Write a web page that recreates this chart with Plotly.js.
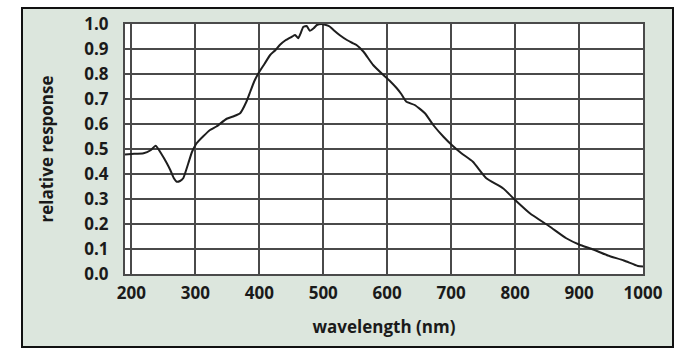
<!DOCTYPE html>
<html>
<head>
<meta charset="utf-8">
<script src="https://cdn.plot.ly/plotly-3.0.1.min.js"></script>
<style>
  html, body { margin: 0; padding: 0; background: #ffffff; width: 682px; height: 356px; overflow: hidden; }
  #chart { position: absolute; left: 21px; top: 7px; width: 649px; height: 337px; border: 2px solid #111; }
</style>
</head>
<body>
<div id="chart"></div>
<script>
// wavelength (nm)
const wavelength = [190, 200, 219, 230, 238, 247, 255, 261, 266, 271, 276, 281, 289, 295, 302, 312, 323, 333, 349, 359, 370, 380, 386, 392, 398, 408, 417, 425, 432, 441, 451, 456, 461, 465, 469, 474, 479, 485, 490, 497, 503, 510, 516, 526, 537, 545, 552, 563, 578, 594, 605, 615, 622, 630, 643, 659, 672, 688, 701, 716, 734, 755, 781, 800, 823, 854, 880, 900, 922, 945, 970, 992, 1000];
// relative response
const response = [0.478, 0.48, 0.483, 0.495, 0.513, 0.48, 0.445, 0.415, 0.385, 0.369, 0.372, 0.383, 0.443, 0.49, 0.523, 0.55, 0.576, 0.59, 0.621, 0.63, 0.643, 0.69, 0.73, 0.77, 0.80, 0.84, 0.876, 0.895, 0.916, 0.935, 0.949, 0.956, 0.943, 0.965, 0.989, 0.992, 0.973, 0.983, 0.996, 1.0, 0.997, 0.99, 0.976, 0.955, 0.936, 0.925, 0.916, 0.889, 0.836, 0.796, 0.77, 0.743, 0.72, 0.689, 0.676, 0.643, 0.596, 0.549, 0.516, 0.483, 0.449, 0.383, 0.343, 0.296, 0.243, 0.19, 0.143, 0.118, 0.098, 0.074, 0.054, 0.032, 0.03];
const xTicks = [200, 300, 400, 500, 600, 700, 800, 900, 1000];
const yTicks = [0.0, 0.1, 0.2, 0.3, 0.4, 0.5, 0.6, 0.7, 0.8, 0.9, 1.0];
const xTitle = 'wavelength (nm)';
const yTitle = 'relative response';

const fontFam = '"Open Sans", "Noto Sans", sans-serif';
const gridCol = '#4a4a4a';

const trace = {
  x: wavelength, y: response, type: 'scatter', mode: 'lines',
  line: { color: '#1e1e1e', width: 2, shape: 'spline', smoothing: 0.5 },
  hoverinfo: 'skip'
};

const layout = {
  width: 649, height: 337,
  margin: { l: 102, r: 29, t: 15, b: 72 },
  paper_bgcolor: '#dce6dd',
  plot_bgcolor: '#ffffff',
  showlegend: false,
  font: { family: fontFam, color: '#1a1a1a', size: 17, weight: 'bold' },
  xaxis: {
    range: [190, 1000], tickmode: 'array', tickvals: xTicks,
    ticktext: xTicks.map(String),
    showgrid: true, gridcolor: gridCol, gridwidth: 2,
    showline: true, linecolor: gridCol, linewidth: 2, mirror: true,
    zeroline: false, ticks: '', ticklabelstandoff: 3,
    tickfont: { family: fontFam, size: 17, weight: 'bold', color: '#1a1a1a' },
    title: { text: xTitle, standoff: 18, font: { family: fontFam, size: 17, weight: 'bold', color: '#1a1a1a' } },
    automargin: false, fixedrange: true
  },
  yaxis: {
    range: [0, 1.0], tickmode: 'array', tickvals: yTicks,
    ticktext: yTicks.map(v => v.toFixed(1)),
    showgrid: true, gridcolor: gridCol, gridwidth: 2,
    showline: true, linecolor: gridCol, linewidth: 2, mirror: true,
    zeroline: false, ticks: '', ticklabelstandoff: 11,
    tickfont: { family: fontFam, size: 17, weight: 'bold', color: '#1a1a1a' },
    title: { text: yTitle, standoff: 26, font: { family: fontFam, size: 17, weight: 'bold', color: '#1a1a1a' } },
    automargin: false, fixedrange: true
  }
};

Plotly.newPlot('chart', [trace], layout, { staticPlot: true, displayModeBar: false });
</script>
</body>
</html>
